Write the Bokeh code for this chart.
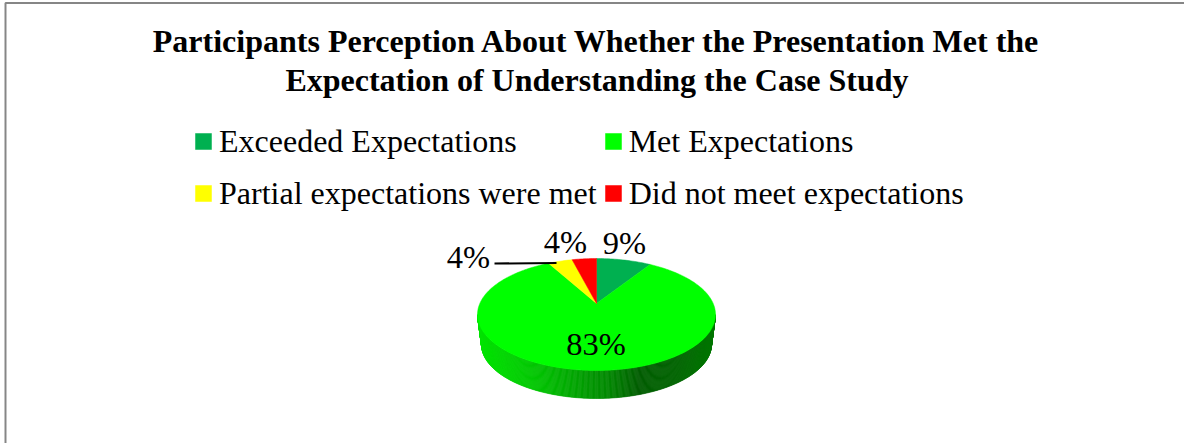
import math
from bokeh.core.properties import value
from bokeh.embed import file_html
from bokeh.models import Legend, LegendItem, Range1d
from bokeh.plotting import figure
from bokeh.resources import INLINE

title_lines = ["Participants Perception About Whether the Presentation Met the",
               "Expectation of Understanding the Case Study"]
categories = ["Exceeded Expectations", "Met Expectations",
              "Partial expectations were met", "Did not meet expectations"]
shares = [9, 83, 4, 4]
colors = ["#00B050", "#00FF00", "#FFFF00", "#FF0000"]
labels = ["9%", "83%", "4%", "4%"]
label_x = [624, 595.5, 468, 565]
label_y = [242, 343, 256, 241]

W, H = 1184, 443
CX, CY, RX, RY, TILT = 596, 314, 119, 56, 0.196
BASE_CY, BASE_RX, BASE_RY = 344, 115, 54
FONT = "Liberation Serif"

p = figure(width=W, height=H, output_backend="svg", toolbar_location=None,
           x_range=Range1d(0, W), y_range=Range1d(H, 0), x_axis_type=None, y_axis_type=None,
           min_border=0, outline_line_color=None, background_fill_color="white",
           margin=0)
p.grid.visible = False


def project(turn):
    """Point on a pie of unit radius, seen in perspective; turn runs clockwise from the top."""
    a = 2 * math.pi * turn
    u, v = math.sin(a), math.cos(a)
    d = 1 + TILT * v
    return CX + RX * u * math.sqrt(1 - TILT ** 2) / d, CY - RY * (v + TILT) / d


def mix(stops, t):
    for (t0, c0), (t1, c1) in zip(stops, stops[1:]):
        if t <= t1:
            f = (t - t0) / (t1 - t0)
            return "#%02X%02X%02X" % tuple(round(a + (b - a) * f) for a, b in zip(c0, c1))
    return "#%02X%02X%02X" % stops[-1][1]


# side wall: the base of the disc is a little narrower, shaded from left to right
stops = [(0.0, (0, 228, 0)), (0.25, (0, 195, 0)), (0.55, (0, 135, 0)),
         (0.68, (0, 92, 0)), (0.85, (0, 100, 0)), (1.0, (0, 118, 0))]
strip_count = 300
xs, ys, cs = [], [], []
for i in range(strip_count):
    a0 = math.pi * i / strip_count
    a1 = math.pi * (i + 1) / strip_count
    xs.append([CX - RX * math.cos(a0), CX - RX * math.cos(a1),
               CX - BASE_RX * math.cos(a1), CX - BASE_RX * math.cos(a0)])
    ys.append([CY + RY * math.sin(a0), CY + RY * math.sin(a1),
               BASE_CY + BASE_RY * math.sin(a1), BASE_CY + BASE_RY * math.sin(a0)])
    cs.append(mix(stops, (1 - math.cos(a0)) / 2))
p.patches(xs, ys, fill_color=cs, line_color=cs, line_width=0.6)

# top face
renderers = []
total = sum(shares)
start = 0
apex = (CX, CY - RY * TILT)
for share, color in zip(shares, colors):
    n = max(4, share * 3)
    pts = [project((start + share * k / n) / total) for k in range(n + 1)]
    renderers.append(p.patch([apex[0]] + [q[0] for q in pts], [apex[1]] + [q[1] for q in pts],
                             fill_color=color, line_color=color, line_width=0.5))
    start += share

# leader line of the left label
p.line([494, 556], [263, 262.5], line_color="black", line_width=2)

# data labels
p.text(label_x, label_y, text=labels, text_font=value(FONT), text_font_size="32.5px",
       text_align="center", text_baseline="middle", text_color="black")

# title
p.text([596.5, 596.5], [40, 79.5], text=title_lines, text_font=value(FONT), text_font_size="32px",
       text_font_style="bold", text_align="center", text_baseline="middle", text_color="black")

# frame
p.line([W, 5, 5], [2.5, 2.5, H], line_color="#868686", line_width=2)

legend = Legend(items=[LegendItem(label=c, renderers=[r]) for c, r in zip(categories, renderers)],
                location=(193, 443 - 216), orientation="horizontal", ncols=2,
                glyph_width=20, glyph_height=20, label_standoff=6, spacing=6, label_height=46,
                padding=0, margin=0, border_line_color=None, background_fill_alpha=0,
                label_text_font=FONT, label_text_font_size="32px", label_text_color="black")
p.add_layout(legend, "center")

open("out.html", "w").write(file_html(p, INLINE))
